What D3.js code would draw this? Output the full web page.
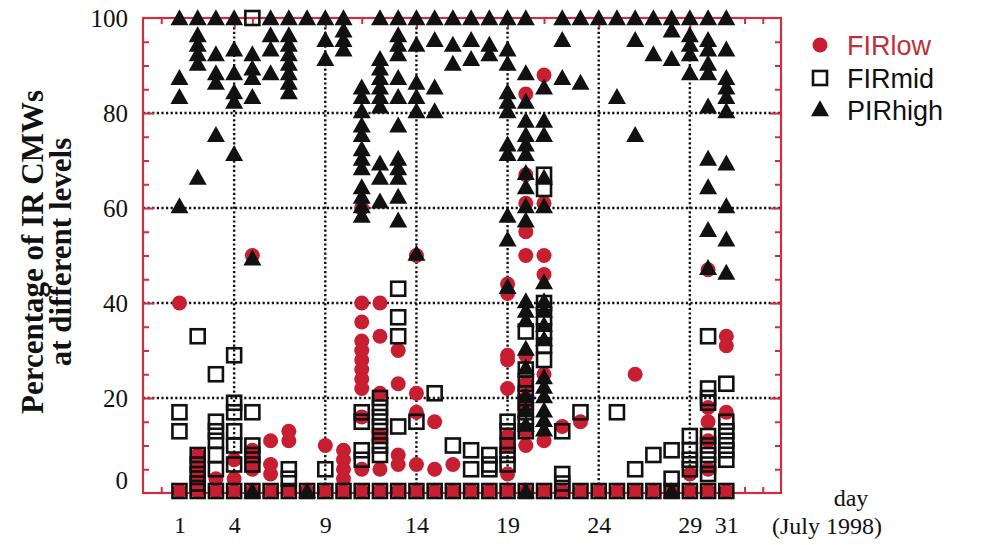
<!DOCTYPE html>
<html>
<head>
<meta charset="utf-8">
<script src="https://cdn.jsdelivr.net/npm/d3@7"></script>
<style>
body { margin: 0; background: #fff; }
</style>
</head>
<body>
<svg id="chart" width="990" height="545"></svg>
<script>
// tick labels and grid
const dayTicks = [1, 4, 9, 14, 19, 24, 29, 31]
const gridDays = [4, 9, 14, 19, 24, 29]
const yTicks = [0, 20, 40, 60, 80, 100]
const seriesNames = ['FIRlow', 'FIRmid', 'PIRhigh']

// [day, percentages observed that day]
const firLow = [
    [1, [0, 40]], [2, [0, 8, 6, 4, 2]], [3, [0, 3]], [4, [0, 7, 3]], [5, [0, 50, 9, 7, 5]],
    [6, [0, 11, 6, 4]], [7, [0, 13, 11]], [8, [0]], [9, [0, 10]], [10, [0, 9, 7, 5, 3]],
    [11, [0, 60, 40, 36, 32, 30, 28, 26, 24, 22, 16, 5]], [12, [0, 40, 33, 21, 12, 5]],
    [13, [0, 30, 23, 8, 6]], [14, [0, 50, 21, 17, 6]], [15, [0, 15, 5]], [16, [0, 6]],
    [17, [0]], [18, [0]], [19, [0, 44, 42, 29, 28, 22, 12, 10, 4]],
    [20, [0, 84, 67, 61, 55, 50, 29, 23, 20, 18, 13, 10]], [21, [0, 88, 61, 50, 46, 25, 11]],
    [22, [0, 14]], [23, [0, 15]], [24, [0]], [25, [0]], [26, [0, 25]], [27, [0]], [28, [0]],
    [29, [0, 4]], [30, [0, 47, 18, 15, 11, 5]], [31, [0, 33, 31, 17]]
]
const firMid = [
    [1, [0, 17, 13]], [2, [0, 33, 8, 6, 4, 2]], [3, [0, 25, 15, 13, 11, 8, 5]],
    [4, [0, 29, 19, 17, 13, 10, 6]], [5, [0, 100, 17, 10, 8, 6]], [6, [0]], [7, [0, 5, 3]],
    [8, [0]], [9, [0, 5]], [10, [0]], [11, [0, 17, 15, 9, 7]],
    [12, [0, 20, 18, 16, 14, 12, 10, 8]], [13, [0, 43, 37, 33, 14]], [14, [0, 15]],
    [15, [0, 21]], [16, [0, 10]], [17, [0, 9, 5]], [18, [0, 8, 6, 5]],
    [19, [0, 15, 13, 10, 8, 6]], [20, [0, 34, 26, 23, 21, 19, 17, 15, 13]],
    [21, [0, 67, 64, 40, 37, 34, 31, 28]], [22, [0, 13, 4, 2]], [23, [0, 17]], [24, [0]],
    [25, [0, 17]], [26, [0, 5]], [27, [0, 8]], [28, [0, 9, 3]], [29, [0, 12, 9, 7, 5]],
    [30, [0, 33, 22, 20, 19, 12, 10, 8, 6, 4]], [31, [0, 23, 15, 13, 11, 9, 7]]
]
const pirHigh = [
    [1, [100, 87, 83, 60]], [2, [100, 96, 94, 92, 90, 66]], [3, [100, 92, 88, 86, 75]],
    [4, [100, 93, 88, 84, 82, 71]], [5, [92, 89, 87, 83, 49, 0]], [6, [100, 96, 93, 88]],
    [7, [100, 96, 94, 92, 90, 88, 86, 84]], [8, [100, 0]], [9, [100, 95, 91]],
    [10, [100, 97, 95, 93]], [11, [85, 83, 80, 77, 75, 72, 70, 68, 64, 62, 60, 58]],
    [12, [100, 91, 89, 87, 85, 83, 81, 69, 66, 61]],
    [13, [100, 96, 94, 92, 87, 83, 77, 70, 68, 66, 62, 57]], [14, [100, 94, 86, 83, 80, 50]],
    [15, [100, 95, 85, 80]], [16, [100, 94, 90]], [17, [100, 95, 91]], [18, [100, 94, 92]],
    [19, [100, 93, 90, 84, 82, 80, 73, 71, 58, 53, 43]],
    [20, [100, 88, 82, 78, 75, 73, 71, 67, 64, 60, 57, 40, 38, 36, 30, 26, 20, 17, 14, 0]],
    [21, [85, 78, 75, 66, 60, 44, 40, 38, 35, 32, 24, 22, 20, 17, 15, 13]],
    [22, [100, 95, 87]], [23, [100, 86]], [24, [100]], [25, [100, 83]], [26, [100, 95, 75]],
    [27, [100, 92]], [28, [100, 97, 91, 0]], [29, [100, 96, 94, 92, 88]],
    [30, [100, 95, 93, 90, 88, 81, 70, 64, 55, 47]],
    [31, [100, 93, 87, 85, 83, 80, 69, 60, 53, 46]]
]

const red = '#c81e32'
const frameRed = '#cc3040'
const svg = d3.select('#chart')
const x = d3.scaleLinear().domain([-1, 34]).range([143, 781])
const y = d3.scaleLinear().domain([0, 100]).range([493, 18])

function flatten(rows) {
    const pts = []
    rows.forEach(([day, vals]) => vals.forEach(v => pts.push({ day: day, value: v })))
    return pts
}

// dotted grid
const grid = svg.append('g').attr('stroke', '#111').attr('stroke-width', 2.4).attr('stroke-dasharray', '2.2,2.4')
grid.selectAll('.gx').data(gridDays).join('line')
    .attr('x1', d => x(d)).attr('x2', d => x(d)).attr('y1', y(100)).attr('y2', y(0))
grid.selectAll('.gy').data([20, 40, 60, 80]).join('line')
    .attr('y1', d => y(d)).attr('y2', d => y(d)).attr('x1', x(-1)).attr('x2', x(34))

// frame and inward ticks
function styleTicks(g) {
    g.select('.domain').remove()
    g.selectAll('line').attr('stroke', frameRed).attr('stroke-width', 2)
}
const minorDays = d3.range(0, 34).filter(d => !gridDays.includes(d))
const minorY = d3.range(5, 100, 5).filter(d => d % 20 != 0)
svg.append('g').attr('transform', `translate(0,${y(0)})`)
    .call(d3.axisBottom(x).tickValues(minorDays).tickSize(-6).tickFormat('')).call(styleTicks)
svg.append('g').attr('transform', `translate(0,${y(0)})`)
    .call(d3.axisBottom(x).tickValues(gridDays).tickSize(-10).tickFormat('')).call(styleTicks)
svg.append('g').attr('transform', `translate(0,${y(100)})`)
    .call(d3.axisTop(x).tickValues(minorDays).tickSize(-6).tickFormat('')).call(styleTicks)
svg.append('g').attr('transform', `translate(0,${y(100)})`)
    .call(d3.axisTop(x).tickValues(gridDays).tickSize(-10).tickFormat('')).call(styleTicks)
svg.append('g').attr('transform', `translate(${x(-1)},0)`)
    .call(d3.axisLeft(y).tickValues(minorY).tickSize(-6).tickFormat('')).call(styleTicks)
svg.append('g').attr('transform', `translate(${x(-1)},0)`)
    .call(d3.axisLeft(y).tickValues([20, 40, 60, 80]).tickSize(-11).tickFormat('')).call(styleTicks)
svg.append('g').attr('transform', `translate(${x(34)},0)`)
    .call(d3.axisRight(y).tickValues(minorY).tickSize(-6).tickFormat('')).call(styleTicks)
svg.append('g').attr('transform', `translate(${x(34)},0)`)
    .call(d3.axisRight(y).tickValues([20, 40, 60, 80]).tickSize(-11).tickFormat('')).call(styleTicks)
svg.append('rect')
    .attr('x', x(-1)).attr('y', y(100)).attr('width', x(34) - x(-1)).attr('height', y(0) - y(100))
    .attr('fill', 'none').attr('stroke', frameRed).attr('stroke-width', 2.2)

// tick labels
const serif = '"Liberation Serif", "Times New Roman", serif'
const xLab = svg.append('g').attr('transform', `translate(0,${y(0)})`)
    .call(d3.axisBottom(x).tickValues(dayTicks).tickSize(0).tickPadding(23))
xLab.select('.domain').remove()
xLab.selectAll('text').attr('font-family', serif).attr('font-size', 24).attr('fill', '#111')
const yLab = svg.append('g').attr('transform', `translate(${x(-1)},0)`)
    .call(d3.axisLeft(y).tickValues(yTicks).tickSize(0).tickPadding(15))
yLab.select('.domain').remove()
yLab.selectAll('text').attr('font-family', serif).attr('font-size', 25).attr('fill', '#111')
    .attr('dy', d => d == 0 ? '-0.2em' : '0.32em')

svg.append('text').attr('x', 851).attr('y', 506).attr('text-anchor', 'middle')
    .attr('font-family', serif).attr('font-size', 24).attr('fill', '#111').text('day')
svg.append('text').attr('x', 827).attr('y', 534).attr('text-anchor', 'middle')
    .attr('font-family', serif).attr('font-size', 24).attr('fill', '#111').text('(July 1998)')

const title = svg.append('text').attr('transform', 'translate(0,252) rotate(-90)')
    .attr('text-anchor', 'middle').attr('font-family', serif).attr('font-weight', 'bold')
    .attr('font-size', 31).attr('fill', '#111')
title.append('tspan').attr('x', 0).attr('y', 43).text('Percentage of IR CMWs')
title.append('tspan').attr('x', 0).attr('y', 71).text('at different levels')

// markers
const triW = 18, triH = 16
const triPath = `M0,${-triH * 2 / 3}L${triW / 2},${triH / 3}L${-triW / 2},${triH / 3}Z`
const sq = 14

svg.append('g').selectAll('circle').data(flatten(firLow)).join('circle')
    .attr('cx', d => x(d.day)).attr('cy', d => y(d.value) - (d.value == 0 ? 2 : 0)).attr('r', 7.5)
    .attr('fill', red)
svg.append('g').selectAll('rect').data(flatten(firMid)).join('rect')
    .attr('x', d => x(d.day) - sq / 2).attr('y', d => y(d.value) - sq / 2 - (d.value == 0 ? 2 : 0))
    .attr('width', sq).attr('height', sq)
    .attr('fill', 'none').attr('stroke', '#111').attr('stroke-width', 2.6)
svg.append('g').selectAll('path').data(flatten(pirHigh)).join('path')
    .attr('transform', d => `translate(${x(d.day)},${y(d.value) + (d.value == 100 ? 2 : 0)})`)
    .attr('d', triPath).attr('fill', '#111')

// legend
const sans = '"Liberation Sans", Arial, Helvetica, sans-serif'
const legend = svg.append('g')
const legendY = [45, 78, 110]
legend.append('circle').attr('cx', 820).attr('cy', legendY[0]).attr('r', 7.5).attr('fill', red)
legend.append('rect').attr('x', 813).attr('y', legendY[1] - 7).attr('width', 14).attr('height', 14)
    .attr('fill', 'none').attr('stroke', '#111').attr('stroke-width', 2.6)
legend.append('path').attr('transform', `translate(820,${legendY[2] + 1})`).attr('d', triPath).attr('fill', '#111')
legend.selectAll('text').data(seriesNames).join('text')
    .attr('x', 847).attr('y', (d, i) => legendY[i]).attr('dy', '0.36em')
    .attr('font-family', sans).attr('font-size', 27)
    .attr('fill', (d, i) => i == 0 ? '#c0303a' : '#111')
    .text(d => d)
</script>
</body>
</html>
